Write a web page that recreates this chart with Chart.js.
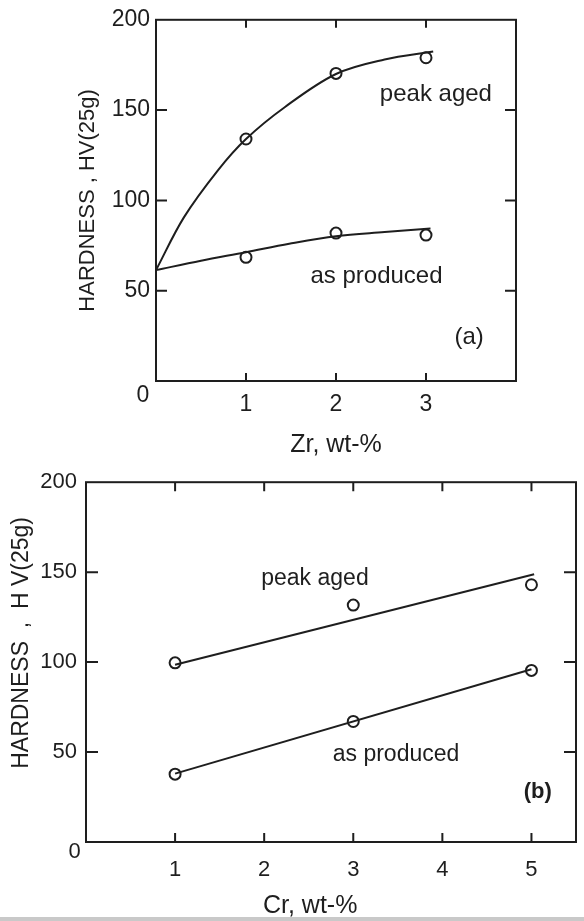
<!DOCTYPE html>
<html><head><meta charset="utf-8">
<script src="https://cdn.jsdelivr.net/npm/chart.js@4/dist/chart.umd.min.js"></script>
<style>
html,body{margin:0;padding:0;background:#fff;}
#wrap{position:relative;width:584px;height:921px;overflow:hidden;background:#fff;}
#boxA{position:absolute;left:0;top:0;width:584px;height:460px;}
#boxB{position:absolute;left:0;top:460px;width:584px;height:461px;}
#edge{position:absolute;left:0;top:917px;width:584px;height:4px;background:#c9c9c9;}
</style></head><body>
<div id="wrap">
<div id="boxA"><canvas id="chartA"></canvas></div>
<div id="boxB"><canvas id="chartB"></canvas></div>
<div id="edge"></div>
</div>
<script>
// ---------- Panel (a): Zr ----------
const zrPoints = [1, 2, 3];
const zrPeakAged = [134, 170.3, 179];
const zrAsProduced = [68.5, 81.9, 80.8];
const zrPeakCurveX = [0, 0.31, 0.69, 1.0, 1.43, 2.0, 2.54, 3.08];
const zrPeakCurveY = [61.4, 90.6, 116.8, 134, 151.6, 170, 178, 182.4];
const zrProdCurveX = [0, 0.5, 1.0, 1.48, 2.0, 2.54, 3.05];
const zrProdCurveY = [61.4, 66.6, 71.3, 76, 80.2, 82.5, 84.5];
const zrTickLabels = ['', '1', '2', '3', ''];

// ---------- Panel (b): Cr ----------
const crPoints = [1, 3, 5];
const crPeakAged = [99.6, 131.7, 143];
const crAsProduced = [37.7, 67, 95.4];
const crPeakFitX = [1, 5.03];
const crPeakFitY = [98.5, 148.8];
const crProdFitX = [1, 5];
const crProdFitY = [38, 96];
const crTickLabels = ['', '1', '2', '3', '4', '5'];

const hvTickLabels = ['', '50', '100', '150', '200'];

const INK = '#1e1e1e';
const FONT = "'Liberation Sans', Arial, sans-serif";

function zip(xs, ys) { return xs.map((x, i) => ({x: x, y: ys[i]})); }

const framePlugin = {
  id: 'frame',
  afterDraw(chart, args, o) {
    const {ctx, chartArea: a, scales} = chart;
    const x = scales.x, y = scales.y;
    ctx.save();
    ctx.strokeStyle = INK;
    ctx.lineWidth = 2;
    ctx.lineJoin = 'miter';
    ctx.strokeRect(a.left, a.top, a.right - a.left, a.bottom - a.top);
    ctx.beginPath();
    o.xTicks.forEach(v => {
      const p = x.getPixelForValue(v);
      ctx.moveTo(p, a.bottom); ctx.lineTo(p, a.bottom - o.xLen);
      ctx.moveTo(p, a.top); ctx.lineTo(p, a.top + o.xLen);
    });
    o.yTicks.forEach(v => {
      const p = y.getPixelForValue(v);
      ctx.moveTo(a.left, p); ctx.lineTo(a.left + o.yLen, p);
      ctx.moveTo(a.right, p); ctx.lineTo(a.right - o.yLen, p);
    });
    ctx.stroke();
    ctx.fillStyle = INK;
    ctx.textAlign = 'center';
    o.labels.forEach(l => {
      ctx.font = l.font;
      ctx.textBaseline = l.baseline;
      ctx.fillText(l.text, x.getPixelForValue(l.x), y.getPixelForValue(l.y));
    });
    ctx.font = o.zeroFont;
    ctx.textBaseline = 'middle';
    ctx.fillText('0', a.left + o.zero[0], a.bottom + o.zero[1]);
    ctx.restore();
  }
};

function lineSet(data, tension) {
  return {
    data: data, showLine: true, pointRadius: 0, borderColor: INK, borderWidth: 2,
    backgroundColor: 'transparent', fill: false,
    cubicInterpolationMode: 'default', tension: tension
  };
}
function pointSet(data) {
  return {
    data: data, showLine: false, pointRadius: 5.5, pointHoverRadius: 5.5, pointStyle: 'circle',
    pointBorderColor: INK, pointBorderWidth: 2, pointBackgroundColor: 'rgba(0,0,0,0)',
    borderColor: INK, backgroundColor: 'rgba(0,0,0,0)'
  };
}

function makeChart(id, cfg) {
  return new Chart(document.getElementById(id), {
    type: 'scatter',
    data: { datasets: cfg.datasets },
    plugins: [framePlugin],
    options: {
      responsive: true, maintainAspectRatio: false, animation: false,
      events: [],
      layout: { padding: cfg.padding },
      plugins: {
        legend: { display: false }, tooltip: { enabled: false },
        frame: cfg.frame
      },
      scales: {
        x: {
          type: 'linear', min: 0, max: cfg.xMax,
          grid: { display: false, drawTicks: false }, border: { display: false },
          afterBuildTicks: s => { s.ticks = cfg.xTickLabels.map((t, i) => ({value: i})); },
          afterFit: s => { s.height = cfg.xHeight; },
          ticks: {
            color: INK, font: { family: FONT, size: cfg.tickSize }, padding: cfg.xTickPad,
            maxRotation: 0, autoSkip: false,
            callback: (v) => cfg.xTickLabels[Math.round(v)] ?? ''
          },
          title: {
            display: true, text: cfg.xTitle, color: INK,
            font: { family: FONT, size: 25 }, padding: { top: 0, bottom: cfg.xTitlePad }
          }
        },
        y: {
          type: 'linear', min: 0, max: 200,
          grid: { display: false, drawTicks: false }, border: { display: false },
          afterBuildTicks: s => { s.ticks = hvTickLabels.map((t, i) => ({value: i * 50})); },
          afterFit: s => { s.width = cfg.yWidth; },
          ticks: {
            color: INK, font: { family: FONT, size: cfg.tickSize }, padding: cfg.yTickPad,
            autoSkip: false,
            callback: (v) => hvTickLabels[Math.round(v / 50)] ?? ''
          },
          title: {
            display: true, text: cfg.yTitle, color: INK,
            font: { family: FONT, size: cfg.yTitleSize }, padding: { top: cfg.yTitlePad, bottom: 0 }
          }
        }
      }
    }
  });
}

makeChart('chartA', {
  datasets: [
    lineSet(zip(zrPeakCurveX, zrPeakCurveY), 0.35),
    lineSet(zip(zrProdCurveX, zrProdCurveY), 0.35),
    pointSet(zip(zrPoints, zrPeakAged)),
    pointSet(zip(zrPoints, zrAsProduced))
  ],
  padding: { left: 0, top: 18, right: 68, bottom: 0 },
  xMax: 4, xTickLabels: zrTickLabels, xHeight: 79, yWidth: 156,
  tickSize: 23, xTickPad: 10, yTickPad: 6,
  xTitle: 'Zr, wt-%', xTitlePad: 0,
  yTitle: 'HARDNESS , HV(25g)', yTitleSize: 22, yTitlePad: 75,
  frame: {
    xTicks: [1, 2, 3], yTicks: [50, 100, 150], xLen: 8, yLen: 11,
    zero: [-13, 15], zeroFont: '23px ' + FONT,
    labels: [
      { text: 'peak aged', x: 3.11, y: 154.8, baseline: 'alphabetic', font: '24px ' + FONT },
      { text: 'as produced', x: 2.45, y: 54, baseline: 'alphabetic', font: '24px ' + FONT },
      { text: '(a)', x: 3.48, y: 24.2, baseline: 'middle', font: '24px ' + FONT }
    ]
  }
});

makeChart('chartB', {
  datasets: [
    lineSet(zip(crPeakFitX, crPeakFitY), 0),
    lineSet(zip(crProdFitX, crProdFitY), 0),
    pointSet(zip(crPoints, crPeakAged)),
    pointSet(zip(crPoints, crAsProduced))
  ],
  padding: { left: 0, top: 18, right: 8, bottom: 0 },
  xMax: 5.5, xTickLabels: crTickLabels, xHeight: 79, yWidth: 86,
  tickSize: 22, xTickPad: 15, yTickPad: 9,
  xTitle: 'Cr, wt-%      ', xTitlePad: 0,
  yTitle: '      HARDNESS  ,  H V(25g)', yTitleSize: 23, yTitlePad: 8,
  frame: {
    xTicks: [1, 2, 3, 4, 5], yTicks: [50, 100, 150], xLen: 9, yLen: 12,
    zero: [-11.5, 10], zeroFont: '22px ' + FONT,
    labels: [
      { text: 'peak aged', x: 2.57, y: 142.9, baseline: 'alphabetic', font: '23px ' + FONT },
      { text: 'as produced', x: 3.48, y: 45, baseline: 'alphabetic', font: '23px ' + FONT },
      { text: '(b)', x: 5.07, y: 28, baseline: 'middle', font: 'bold 22px ' + FONT }
    ]
  }
});
</script>
</body></html>
